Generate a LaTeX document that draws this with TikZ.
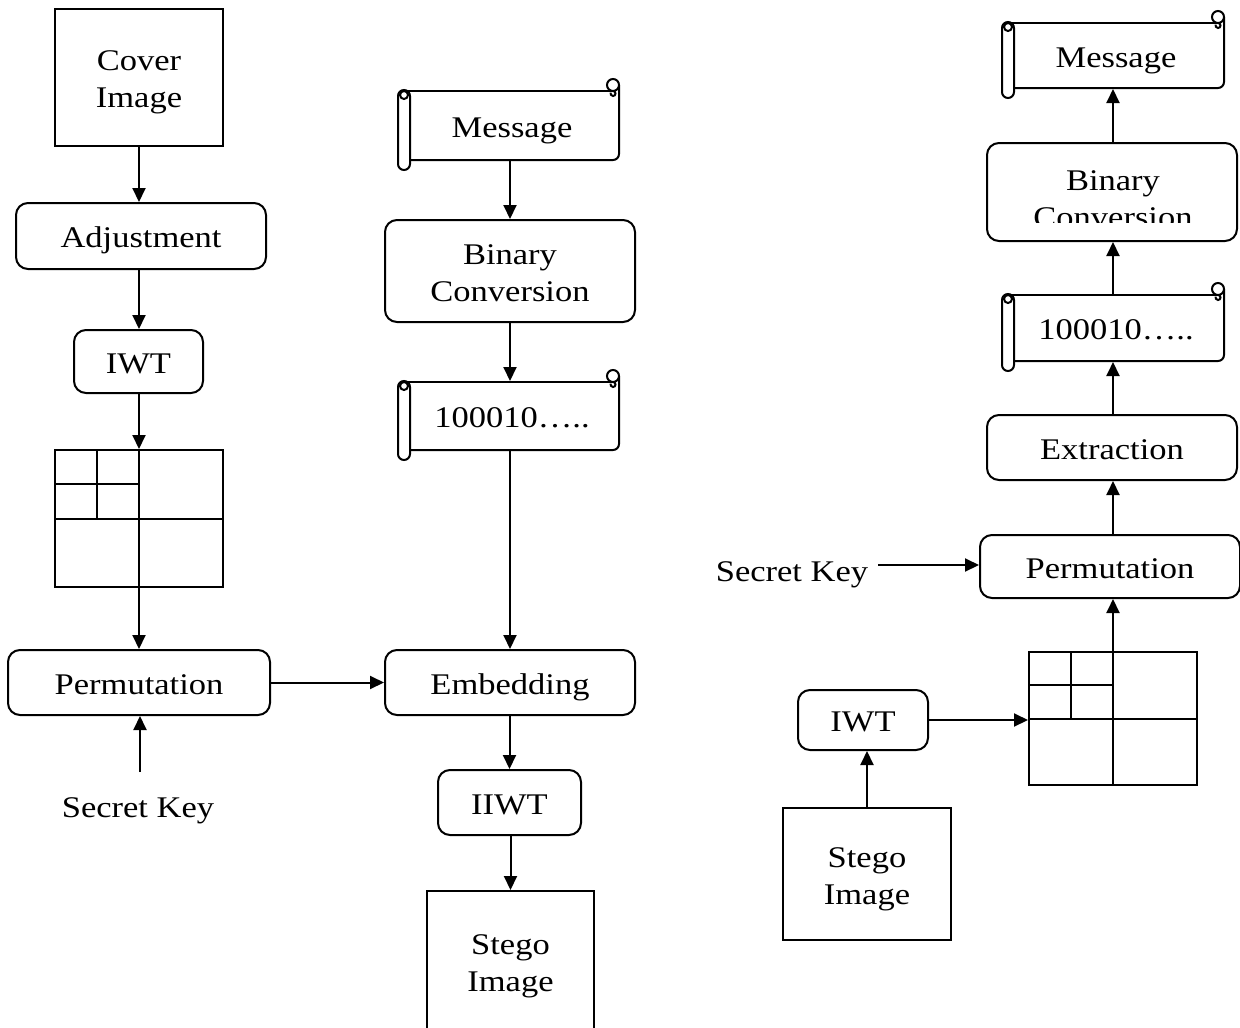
\documentclass[tikz,border=0pt]{standalone}
\usepackage{fontspec}
\setmainfont{Liberation Serif}[FakeStretch=1.15]
\usetikzlibrary{arrows.meta,calc}
\newcommand\scrollbody[4]{%
  \draw[rounded corners=6pt] (#1,#4) -- (#3,#4) -- (#3,#2-6);
  \draw (#1-6,#2) -- (#3-6,#2);
  \draw (#3-6,#2-6) circle (6pt);
  \draw (#3-6,#2) arc[start angle=90,end angle=-200,radius=2.5pt];
  \draw[rounded corners=6pt] (#1-12,#2-1) rectangle (#1,#4+10);
  \draw (#1-6,#2+4) circle (4pt);
}
\newcommand\topstrut{\rule{0pt}{30pt}}
\begin{document}
\begin{tikzpicture}[x=1pt,y=-1pt, line width=2pt,
  every node/.style={font=\fontsize{30}{37}\selectfont, align=center, inner sep=0pt,
    execute at begin node={\rule{0pt}{30pt}},
    execute at end node={\rule[-7pt]{0pt}{7pt}}},
  sqbox/.style={draw, rectangle},
  rbox/.style={draw, rectangle, rounded corners=12pt},
  arr/.style={-{Triangle[length=14pt,width=13pt]}, line width=2pt}]
\useasboundingbox (0,0) rectangle (1240,1028);
\clip (0,0) rectangle (1240,1028);

% ---------- left column ----------
\node[sqbox, minimum width=168pt, minimum height=137pt] (cover) at (139,77) {\topstrut Cover\\Image};
\node[rbox, minimum width=250pt, minimum height=66pt] (adj) at (141,236) {Adjustment};
\node[rbox, minimum width=129pt, minimum height=63pt] (iwt1) at (138.5,361.5) {IWT};
\node[sqbox, minimum width=168pt, minimum height=137pt] (grid1) at (139,518.5) {};
\draw (grid1.north) -- (grid1.south);
\draw (grid1.west) -- (grid1.east);
\draw ($(grid1.north west)!0.5!(grid1.north)$) -- ($(grid1.west)!0.5!(grid1.center)$);
\draw ($(grid1.north west)!0.5!(grid1.west)$) -- ($(grid1.north)!0.5!(grid1.center)$);
\node[rbox, minimum width=262pt, minimum height=65pt] (perm1) at (139,682.5) {Permutation};
\node (sk1) at (138,806) {Secret Key};
\coordinate (sk1a) at (140,772);

% ---------- middle column ----------
\scrollbody{410}{91}{619}{160}
\node[minimum width=209pt, minimum height=69pt] (msg1) at (512,125.5) {Message};
\node[rbox, minimum width=250pt, minimum height=102pt] (bin1) at (510,271) {\topstrut Binary\\Conversion};
\scrollbody{410}{382}{619}{450}
\node[minimum width=209pt, minimum height=68pt] (bits1) at (512,416) {100010…..};
\node[rbox, minimum width=250pt, minimum height=65pt] (emb) at (510,682.5) {Embedding};
\node[rbox, minimum width=143pt, minimum height=65pt] (iiwt) at (509.5,802.5) {IIWT};
\node[sqbox, minimum width=167pt, minimum height=141pt] (stego1) at (510.5,961.5) {\topstrut Stego\\Image};

% ---------- right column ----------
\scrollbody{1014}{23}{1224}{88}
\node[minimum width=210pt, minimum height=65pt] (msg2) at (1116,55.5) {Message};
\node[rbox, minimum width=250pt, minimum height=98pt] (bin2) at (1112,192) {};
\begin{scope}
  \clip (980,140) rectangle (1240,222);
  \node (bin2t) at (1113,197.5) {\topstrut Binary\\Conversion};
\end{scope}
\scrollbody{1014}{295}{1224}{361}
\node[minimum width=210pt, minimum height=66pt] (bits2) at (1116,328) {100010…..};
\node[rbox, minimum width=250pt, minimum height=65pt] (extr) at (1112,447.5) {Extraction};
\node[rbox, minimum width=260pt, minimum height=63pt] (perm2) at (1110,566.5) {Permutation};
\node (sk2) at (792,570) {Secret Key};
\coordinate (sk2a) at (878,565);
\node[sqbox, minimum width=168pt, minimum height=133pt] (grid2) at (1113,718.5) {};
\draw (grid2.north) -- (grid2.south);
\draw (grid2.west) -- (grid2.east);
\draw ($(grid2.north west)!0.5!(grid2.north)$) -- ($(grid2.west)!0.5!(grid2.center)$);
\draw ($(grid2.north west)!0.5!(grid2.west)$) -- ($(grid2.north)!0.5!(grid2.center)$);
\node[rbox, minimum width=130pt, minimum height=60pt] (iwt2) at (863,720) {IWT};
\node[sqbox, minimum width=168pt, minimum height=132pt] (stego2) at (867,874) {\topstrut Stego\\Image};

% ---------- connectors ----------
\draw[arr] (cover.south) -- (cover.south |- adj.north);
\draw[arr] (cover.south |- adj.south) -- (cover.south |- iwt1.north);
\draw[arr] (iwt1.south -| grid1.north) -- (grid1.north);
\draw[arr] (grid1.south) -- (perm1.north);
\draw[arr] (sk1a) -- (sk1a |- perm1.south);
\draw[arr] (perm1.east) -- (emb.west);

\draw[arr] (bin1.north |- msg1.south) -- (bin1.north);
\draw[arr] (bin1.south) -- (bin1.south |- bits1.north);
\draw[arr] (emb.north |- bits1.south) -- (emb.north);
\draw[arr] (emb.south -| iiwt.north) -- (iiwt.north);
\draw[arr] (iiwt.south) -- (iiwt.south -| stego1.north) -- (stego1.north);

\draw[arr] (stego2.north) -- (stego2.north |- iwt2.south);
\draw[arr] (iwt2.east) -- (iwt2.east -| grid2.west);
\draw[arr] (grid2.north) -- (grid2.north |- perm2.south);
\draw[arr] (sk2a) -- (sk2a -| perm2.west);
\draw[arr] (grid2.north |- perm2.north) -- (grid2.north |- extr.south);
\draw[arr] (grid2.north |- extr.north) -- (grid2.north |- bits2.south);
\draw[arr] (grid2.north |- bits2.north) -- (grid2.north |- bin2.south);
\draw[arr] (grid2.north |- bin2.north) -- (grid2.north |- msg2.south);
\end{tikzpicture}
\end{document}
